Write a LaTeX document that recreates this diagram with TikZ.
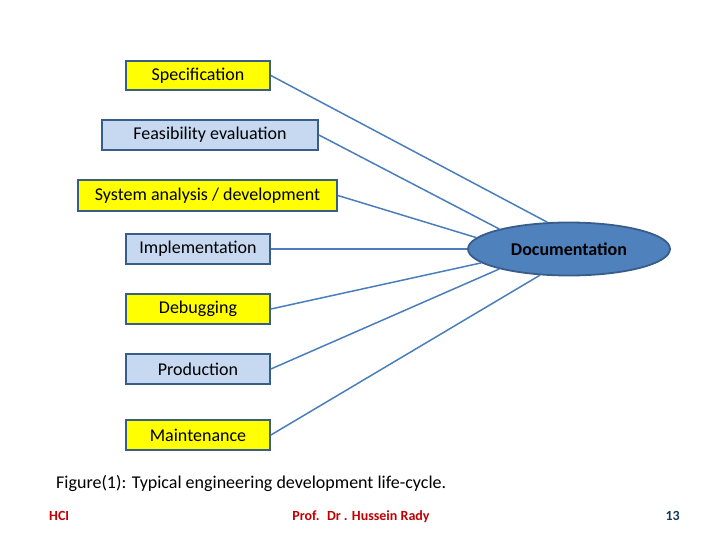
\documentclass[tikz,border=0pt]{standalone}
\usepackage{fontspec}
\setmainfont{Carlito}
\usetikzlibrary{shapes.geometric}
\definecolor{boxline}{HTML}{385D8A}
\definecolor{stageyellow}{HTML}{FFFF00}
\definecolor{stageblue}{HTML}{C6D9F1}
\definecolor{linkblue}{HTML}{4A7EBB}
\definecolor{docblue}{HTML}{4F81BD}
\definecolor{footred}{HTML}{C00000}
\definecolor{pagenum}{HTML}{17375E}
\tikzset{
	stage/.style={draw=boxline,line width=1.8pt,minimum height=30pt,inner sep=0pt,font=\fontsize{18}{20}\selectfont},
	yellowstage/.style={stage,fill=stageyellow},
	bluestage/.style={stage,fill=stageblue},
	link/.style={draw=linkblue,line width=1.5pt},
	foot/.style={inner sep=0pt,text=footred,font=\fontsize{14}{16}\selectfont\bfseries},
}
\begin{document}
\begin{tikzpicture}[x=1pt,y=-1pt]
		\useasboundingbox (0,0) rectangle (720,540);
		% stages
		\node[yellowstage,minimum width=144pt,minimum height=29pt] (spec) at (198,75.5) {Specification};
		\node[bluestage,minimum width=216pt] (feas) at (210,135) {Feasibility evaluation};
		\node[yellowstage,minimum width=259pt,minimum height=31pt] (sysa) at (207.5,195.5) {System analysis / development};
		\node[bluestage,minimum width=144pt] (impl) at (198,249) {Implementation};
		\node[yellowstage,minimum width=144pt] (debug) at (198,309) {Debugging};
		\node[bluestage,minimum width=144pt] (prod) at (198,369) {Production};
		\node[yellowstage,minimum width=144pt] (maint) at (198,435) {Maintenance};
		% documentation
		\node[ellipse,draw=boxline,line width=1.8pt,fill=docblue,minimum width=202pt,minimum height=53pt,inner sep=0pt,font=\fontsize{18}{20}\selectfont\bfseries] (doc) at (569,249) {Documentation};
		% links
		\draw[link] (spec.east) -- (doc.129);
		\draw[link] (feas.east) -- (doc.164);
		\draw[link] (sysa.east) -- (doc.173);
		\draw[link] (impl.east) -- (doc.west);
		\draw[link] (debug.east) -- (doc.189);
		\draw[link] (prod.east) -- (doc.196);
		\draw[link] (maint.east) -- (doc.222);
		% caption and footer
		\node[anchor=west,inner sep=0pt,font=\fontsize{18}{20}\selectfont] (cap) at (56,483) {Figure(1): Typical engineering development life-cycle.};
		\node[foot,anchor=base west] (course) at (49,520) {HCI};
		\node[foot,anchor=base] (prof) at (361,520) {Prof.~ Dr . Hussein Rady};
		\node[foot,anchor=base east,text=pagenum] (page) at (680,520) {13};
	\end{tikzpicture}
\end{document}
